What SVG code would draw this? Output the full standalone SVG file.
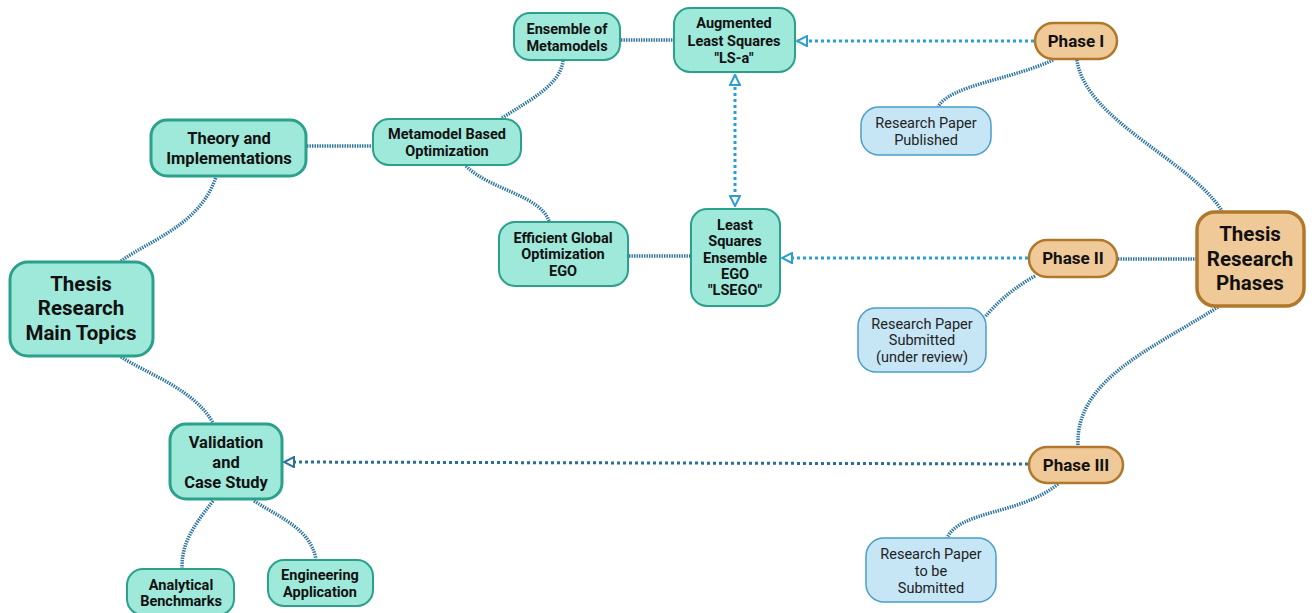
<svg xmlns="http://www.w3.org/2000/svg" width="1314" height="613" viewBox="0 0 1314 613">
<style>
.t{fill:#9fe9db;stroke:#2ba08b;stroke-width:2}
.tb{fill:#9fe9db;stroke:#2ba08b;stroke-width:3}
.p{fill:#f0c999;stroke:#b0782a;stroke-width:2.5}
.pb{fill:#f0c999;stroke:#b0782a;stroke-width:3.5}
.b{fill:#c6e6f6;stroke:#4a9ec6;stroke-width:1.5}
text{font-family:Roboto,"Liberation Sans",sans-serif;text-anchor:middle;fill:#111}
.s{font-size:14.5px;font-weight:bold}
.m{font-size:16.5px;font-weight:bold}
.ph{font-size:17px;font-weight:bold}
.l{font-size:20.5px;font-weight:bold}
.n{font-size:14.5px;font-weight:normal;fill:#222}
.c{fill:none;stroke:#2a72a0;stroke-width:3.5;stroke-dasharray:1.4 1.1}
.a{fill:none;stroke:#2b9fd2;stroke-width:3;stroke-dasharray:3 3}
.ad{fill:none;stroke:#2a6f96;stroke-width:3;stroke-dasharray:3 3}
</style>
<defs>
<marker id="ah" viewBox="0 0 12 12" refX="11" refY="6" markerWidth="4" markerHeight="4" orient="auto-start-reverse" markerUnits="strokeWidth">
<path d="M1,1 L11,6 L1,11 Z" fill="#fff" stroke="#2b9fd2" stroke-width="2"/>
</marker>
<marker id="ahd" viewBox="0 0 12 12" refX="11" refY="6" markerWidth="4" markerHeight="4" orient="auto-start-reverse" markerUnits="strokeWidth">
<path d="M1,1 L11,6 L1,11 Z" fill="#fff" stroke="#2a6f96" stroke-width="2"/>
</marker>
</defs>
<g id="connectors">
<path class="c" d="M121,261 C150,240 200,225 216,177"/>
<path class="c" d="M307,146 L372,146"/>
<path class="c" d="M502,118 C530,100 560,85 563,61"/>
<path class="c" d="M466,166 C490,190 540,195 549,221"/>
<path class="c" d="M621,40 L673,40"/>
<path class="c" d="M629,256 L690,256"/>
<path class="c" d="M1118,259 L1196,259"/>
<path class="c" d="M1077,60 C1085,120 1190,160 1222,211"/>
<path class="c" d="M1053,60 C1010,80 950,85 938,107"/>
<path class="c" d="M1035,276 C1010,290 995,305 985,317"/>
<path class="c" d="M1218,307 C1150,350 1075,380 1078,446"/>
<path class="c" d="M1058,484 C1020,515 960,510 947,538"/>
<path class="c" d="M121,357 C150,375 195,390 213,423"/>
<path class="c" d="M213,501 C190,530 182,545 182,568"/>
<path class="c" d="M254,501 C285,520 310,530 316,559"/>
<path class="a" d="M1034,41 L797,41" marker-end="url(#ah)"/>
<path class="a" d="M735,75 L735,206" marker-start="url(#ah)" marker-end="url(#ah)"/>
<path class="a" d="M1028,258 L782,258" marker-end="url(#ah)"/>
<path class="ad" d="M1028,464 L284,462" marker-end="url(#ahd)"/>
</g>
<g id="main-topics"><rect class="tb" x="10" y="262" width="143" height="94" rx="18"/><text class="l" x="81" y="291">Thesis</text><text class="l" x="81" y="315">Research</text><text class="l" x="81" y="340">Main Topics</text></g>
<g id="theory"><rect class="tb" x="151" y="120" width="155" height="56" rx="16"/><text class="m" x="229" y="144">Theory and</text><text class="m" x="229" y="164">Implementations</text></g>
<g id="metamodel-opt"><rect class="t" x="373" y="119" width="148" height="46" rx="16"/><text class="s" x="447" y="139">Metamodel Based</text><text class="s" x="447" y="156">Optimization</text></g>
<g id="ensemble"><rect class="t" x="514" y="13" width="106" height="47" rx="16"/><text class="s" x="567" y="34">Ensemble of</text><text class="s" x="567" y="51">Metamodels</text></g>
<g id="ls-a"><rect class="t" x="674" y="8" width="121" height="64" rx="16"/><text class="s" x="734" y="28">Augmented</text><text class="s" x="734" y="46">Least Squares</text><text class="s" x="734" y="63">"LS-a"</text></g>
<g id="ego"><rect class="t" x="499" y="222" width="129" height="64" rx="16"/><text class="s" x="563" y="243">Efficient Global</text><text class="s" x="563" y="259">Optimization</text><text class="s" x="563" y="276">EGO</text></g>
<g id="lsego"><rect class="t" x="691" y="209" width="89" height="97" rx="16"/><text class="s" x="735" y="230">Least</text><text class="s" x="735" y="246">Squares</text><text class="s" x="735" y="263">Ensemble</text><text class="s" x="735" y="279">EGO</text><text class="s" x="735" y="295">"LSEGO"</text></g>
<g id="phase1"><rect class="p" x="1035" y="23" width="82" height="36" rx="18"/><text class="ph" x="1076" y="47">Phase I</text></g>
<g id="paper1"><rect class="b" x="861" y="107" width="130" height="48" rx="18"/><text class="n" x="926" y="128">Research Paper</text><text class="n" x="926" y="145">Published</text></g>
<g id="phases"><rect class="pb" x="1197" y="212" width="107" height="94" rx="18"/><text class="l" x="1250" y="241">Thesis</text><text class="l" x="1250" y="266">Research</text><text class="l" x="1250" y="290">Phases</text></g>
<g id="phase2"><rect class="p" x="1029" y="240" width="88" height="37" rx="18"/><text class="ph" x="1073" y="264">Phase II</text></g>
<g id="paper2"><rect class="b" x="858" y="308" width="128" height="64" rx="18"/><text class="n" x="922" y="329">Research Paper</text><text class="n" x="922" y="345">Submitted</text><text class="n" x="922" y="362">(under review)</text></g>
<g id="phase3"><rect class="p" x="1029" y="447" width="94" height="36" rx="18"/><text class="ph" x="1076" y="471">Phase III</text></g>
<g id="paper3"><rect class="b" x="866" y="538" width="130" height="64" rx="18"/><text class="n" x="931" y="559">Research Paper</text><text class="n" x="931" y="576">to be</text><text class="n" x="931" y="593">Submitted</text></g>
<g id="validation"><rect class="tb" x="170" y="424" width="112" height="75" rx="16"/><text class="m" x="226" y="448">Validation</text><text class="m" x="226" y="468">and</text><text class="m" x="226" y="488">Case Study</text></g>
<g id="analytical"><rect class="t" x="127" y="569" width="107" height="46" rx="16"/><text class="s" x="181" y="590">Analytical</text><text class="s" x="181" y="606">Benchmarks</text></g>
<g id="engineering"><rect class="t" x="268" y="560" width="105" height="46" rx="16"/><text class="s" x="320" y="580">Engineering</text><text class="s" x="320" y="597">Application</text></g>
</svg>
